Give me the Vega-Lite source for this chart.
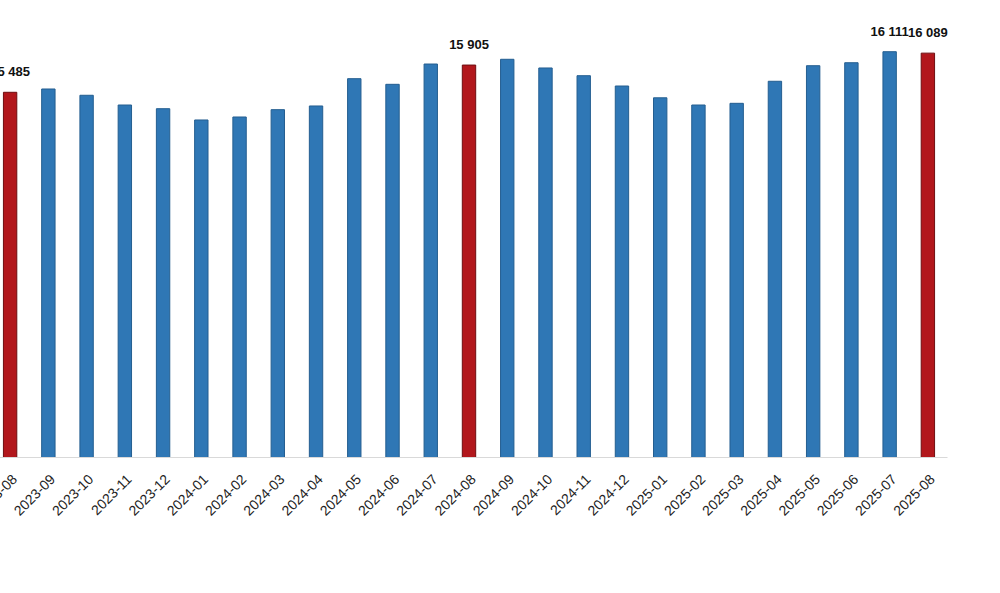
{
  "$schema": "https://vega.github.io/schema/vega-lite/v6.json",
  "width": 956,
  "height": 437,
  "autosize": {"type": "none"},
  "padding": {"left": -9, "top": 20, "right": 53, "bottom": 136},
  "background": "white",
  "config": {
    "view": {"stroke": null},
    "locale": {"number": {"decimal": ",", "thousands": " ", "grouping": [3], "currency": ["", ""]}}
  },
  "data": {
    "values": [
      {"month": "2023-08", "value": 15485},
      {"month": "2023-09", "value": 15536},
      {"month": "2023-10", "value": 15439},
      {"month": "2023-11", "value": 15289},
      {"month": "2023-12", "value": 15232},
      {"month": "2024-01", "value": 15058},
      {"month": "2024-02", "value": 15104},
      {"month": "2024-03", "value": 15217},
      {"month": "2024-04", "value": 15274},
      {"month": "2024-05", "value": 15695},
      {"month": "2024-06", "value": 15608},
      {"month": "2024-07", "value": 15921},
      {"month": "2024-08", "value": 15905},
      {"month": "2024-09", "value": 15994},
      {"month": "2024-10", "value": 15860},
      {"month": "2024-11", "value": 15741},
      {"month": "2024-12", "value": 15582},
      {"month": "2025-01", "value": 15400},
      {"month": "2025-02", "value": 15289},
      {"month": "2025-03", "value": 15315},
      {"month": "2025-04", "value": 15655},
      {"month": "2025-05", "value": 15895},
      {"month": "2025-06", "value": 15941},
      {"month": "2025-07", "value": 16111},
      {"month": "2025-08", "value": 16089}
    ]
  },
  "encoding": {
    "x": {
      "field": "month",
      "type": "ordinal",
      "sort": null,
      "scale": {"paddingInner": 0.65, "paddingOuter": 0.325},
      "axis": {
        "title": null,
        "labelAngle": -45,
        "labelFont": "Liberation Sans",
        "labelFontSize": 14,
        "labelColor": "#222222",
        "labelPadding": 15,
        "ticks": false,
        "domainColor": "#d9d9d9",
        "domainWidth": 1,
        "zindex": 1
      }
    },
    "y": {
      "field": "value",
      "type": "quantitative",
      "scale": {"domain": [9860, 16600], "zero": false, "nice": false},
      "axis": null
    }
  },
  "layer": [
    {
      "mark": {"type": "bar", "strokeWidth": 1, "clip": true},
      "encoding": {
        "color": {
          "condition": {"test": "indexof(['2023-08','2024-08','2025-08'], datum.month) >= 0", "value": "#b2171c"},
          "value": "#2f77b5"
        },
        "stroke": {
          "condition": {"test": "indexof(['2023-08','2024-08','2025-08'], datum.month) >= 0", "value": "#6e0e11"},
          "value": "#245e90"
        }
      }
    },
    {
      "transform": [{"filter": "indexof(['2023-08','2024-08','2025-07','2025-08'], datum.month) >= 0"}],
      "mark": {"type": "text", "font": "Liberation Sans", "fontSize": 13, "fontWeight": "bold", "color": "#111111", "baseline": "alphabetic", "dy": -16},
      "encoding": {
        "text": {"field": "value", "type": "quantitative", "format": ",d"}
      }
    }
  ]
}
